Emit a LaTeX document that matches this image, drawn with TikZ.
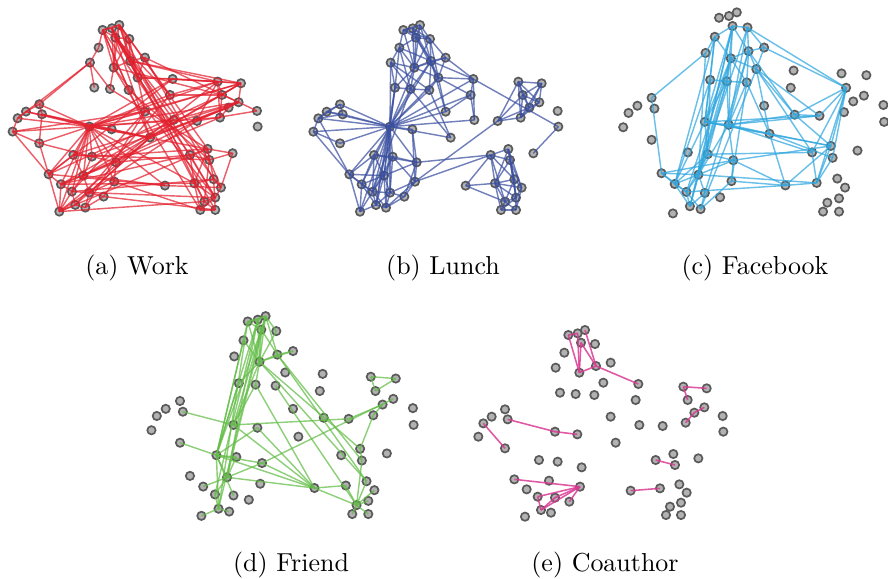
\documentclass[tikz,border=0pt]{standalone}
\usepackage{tikz}
\usepackage{xcolor}
\usetikzlibrary{positioning}
\definecolor{WorkRed}{HTML}{E3202E}
\definecolor{LunchBlue}{HTML}{3A4FA0}
\definecolor{FbCyan}{HTML}{2FA6DE}
\definecolor{FriendGreen}{HTML}{62BC45}
\definecolor{CoPink}{HTML}{DA3A93}
\definecolor{NodeGray}{HTML}{B2B2B2}
\definecolor{RimGray}{HTML}{5A5A5A}

% layout of the 61 people, shared by every layer
\newcommand{\peoplexy}{310/45,338/40,360/30,348/68,390/72,298/98,272/143,343/158,393/138,437/128,415/188,520/192,285/218,332/222,388/225,512/240,655/200,725/205,668/240,718/262,688/278,662/308,773/288,775/335,120/268,80/290,55/310,40/350,128/298,120/385,270/335,337/343,437/290,523/315,593/318,452/368,222/420,278/425,350/442,572/420,625/402,630/435,700/415,148/478,252/482,345/500,185/508,218/530,270/533,313/545,228/570,258/578,180/590,497/512,585/505,643/493,665/518,648/548,615/560,603/585,648/585}
\newcommand{\placepeople}[1]{%
  \foreach \px/\py [count=\k] in \peoplexy
    \node[person] (#1-\k) at (\px,\py) {};}

\tikzset{
  person/.style={circle, draw=RimGray, fill=NodeGray, line width=0.65pt, minimum size=3.2pt, inner sep=0pt},
  tie/.style={line width=0.55pt, opacity=0.72},
  work/.style={tie, WorkRed},
  lunch/.style={tie, LunchBlue},
  facebook/.style={tie, FbCyan},
  friend/.style={tie, FriendGreen},
  coauthor/.style={tie, CoPink, line width=0.6pt, opacity=0.85},
  subcap/.style={font=\normalsize, anchor=base}
}

\begin{document}
\begin{tikzpicture}[x=0.385pt, y=-0.385pt]
    \useasboundingbox (0,0) rectangle (888,578);

    % (a) Work
    \begin{scope}[shift={(-0.7,14.9)}, scale=1/3]
        \placepeople{a}
        \foreach \u/\v in {1/2,1/3,2/3,1/4,2/4,3/4,3/5,4/5,1/6,1/8,2/8,3/8,4/8,5/8,2/9,3/9,4/9,5/9,8/9,9/10,6/7,7/13,7/14,8/14,9/11,10/11,11/12,1/15,2/11,3/11,4/16,3/16,2/36,1/36,3/41,4/42,1/40,2/58,3/59,5/33,4/34,9/17,9/18,11/17,8/19,10/20,7/27,
            31/25,31/26,31/27,31/28,31/29,31/30,31/12,31/16,31/33,31/34,31/17,31/18,31/20,31/22,31/36,31/32,31/37,31/38,31/44,31/45,31/47,31/48,31/53,31/39,31/46,31/54,31/55,31/41,
            17/18,17/19,18/19,18/20,19/20,20/21,21/22,19/22,17/22,20/23,12/17,12/18,16/17,16/19,33/18,34/20,35/17,35/20,35/23,36/18,36/20,36/21,37/20,38/21,44/19,45/18,47/22,39/17,53/35,51/36,
            40/41,40/42,41/42,42/43,41/43,40/55,41/56,42/57,55/56,55/58,56/57,57/58,58/59,58/60,59/60,59/61,60/61,56/61,43/57,41/55,40/58,42/59,55/60,
            8/58,9/59,8/60,4/61,10/56,11/57,15/42,14/41,
            37/38,37/44,37/45,38/39,38/45,39/45,39/46,44/47,44/53,45/47,45/48,45/49,46/49,46/50,47/48,47/53,48/49,48/53,49/50,49/52,50/52,51/52,51/53,48/51,
            44/54,45/54,47/55,48/56,49/58,46/60,53/59,50/61,54/57,39/40,38/41,37/42,47/40,53/41,45/35,53/36,49/36,48/33,47/34,44/12,51/16,52/33,
            25/26,25/29,26/27,27/28,28/30,29/30,25/7,28/44,30/44,26/36,29/36,28/33,30/38}
            \draw[work] (a-\u.center) -- (a-\v.center);
    \end{scope}
    \node[subcap] (cap-a) at (137,274) {(a)\ Work};

    % (b) Lunch
    \begin{scope}[shift={(300,15)}, scale=1/3]
        \placepeople{b}
        \foreach \u/\v in {1/2,1/3,1/4,1/5,1/6,1/8,2/3,2/4,2/5,2/8,2/9,3/4,3/5,3/9,4/5,4/6,4/8,4/9,5/8,5/9,5/10,6/7,6/8,6/9,7/8,7/13,8/9,8/10,8/11,8/13,8/14,9/10,9/11,9/14,9/15,10/11,10/12,11/12,11/15,13/14,14/15,9/12,5/11,6/13,7/14,4/11,3/8,6/14,7/15,
            31/13,31/14,31/8,31/9,31/7,31/15,31/11,31/12,31/16,31/33,31/34,31/36,31/32,
            12/16,12/34,16/34,33/16,11/33,11/16,9/33,15/36,14/36,12/24,24/43,35/46,
            17/18,17/19,17/20,17/21,17/22,17/35,18/19,18/20,18/21,18/22,19/20,19/21,19/22,19/35,20/21,20/22,21/22,21/35,22/35,
            25/31,26/31,27/31,28/31,29/31,30/31,25/26,25/27,25/29,26/27,26/29,27/29,27/28,28/30,28/44,27/44,
            31/37,31/38,31/39,31/44,31/45,31/47,31/48,31/49,31/51,31/52,31/53,32/39,32/46,
            37/38,37/44,37/45,37/47,37/48,38/39,38/45,38/46,38/49,39/45,39/46,39/50,44/47,44/48,44/53,44/45,45/47,45/48,45/49,45/51,45/52,46/49,46/50,46/52,47/48,47/51,47/53,48/49,48/51,48/52,48/53,49/51,49/52,49/50,50/52,51/52,51/53,37/39,38/48,
            39/40,46/40,
            40/41,40/42,40/55,40/56,41/42,41/55,41/56,41/57,42/55,42/56,42/57,42/58,55/56,55/57,55/58,55/59,55/60,56/57,56/58,56/59,57/58,57/61,58/59,58/60,58/61,59/60,59/61,60/61,54/40,54/55,54/59,40/59,41/58,
            13/45,14/48,13/51}
            \draw[lunch] (b-\u.center) -- (b-\v.center);
    \end{scope}
    \node[subcap] (cap-b) at (443,274) {(b)\ Lunch};

    % (c) Facebook
    \begin{scope}[shift={(609,1.6)}, xscale=1.065/3, yscale=1.077/3]
        \placepeople{c}
        \foreach \u/\v in {4/5,4/6,4/8,4/9,5/9,5/10,5/19,6/7,6/8,6/31,6/13,4/14,8/9,8/14,8/15,8/11,9/11,9/15,9/10,10/11,8/31,8/32,9/32,9/34,11/34,11/35,11/40,11/36,14/31,14/32,13/31,15/32,15/36,4/31,5/32,10/19,
            4/51,5/45,8/48,8/51,9/49,14/45,13/47,15/46,11/52,4/45,6/47,7/45,
            31/32,31/36,31/35,32/36,32/34,32/35,36/41,36/42,31/41,32/40,34/35,34/41,
            19/34,19/35,19/41,19/42,19/55,19/40,41/55,42/55,40/55,
            38/45,38/47,38/48,38/39,39/45,39/46,39/54,45/47,45/48,45/49,45/51,47/48,47/51,48/51,48/52,49/52,49/51,46/52,46/54,54/55,44/45,44/48,44/47,54/41,54/36,39/41,38/40,45/55,48/54,25/7,25/44,44/39,
            13/14,14/15,13/38,14/38,31/38,32/39,31/47,32/45}
            \draw[facebook] (c-\u.center) -- (c-\v.center);
    \end{scope}
    \node[subcap] (cap-c) at (755,274) {(c)\ Facebook};

    % (d) Friend
    \begin{scope}[shift={(137.2,305.4)}, scale=1.07/3]
        \placepeople{d}
        \foreach \u/\v in {1/2,1/3,2/3,1/4,2/4,3/4,1/8,2/8,3/8,4/8,3/5,5/8,6/8,8/9,9/10,4/9,3/9,8/10,
            1/37,2/45,3/31,4/37,1/51,2/37,3/45,6/37,13/37,14/31,8/31,8/13,8/14,2/48,4/51,
            8/41,9/42,15/59,8/56,9/56,14/54,
            29/31,31/35,35/21,21/22,22/41,17/18,17/19,18/19,30/37,37/39,37/45,37/49,37/51,37/54,39/20,39/54,31/54,45/54,45/39,32/54,32/37,
            54/59,54/55,55/59,56/59,57/59,58/59,59/60,59/61,42/59,41/42,45/48,47/45,51/53,51/52,48/51,38/37,38/45}
            \draw[friend] (d-\u.center) -- (d-\v.center);
    \end{scope}
    \node[subcap] (cap-d) at (291,571) {(d)\ Friend};

    % (e) Coauthor
    \begin{scope}[shift={(465,320)}, scale=1/3]
        \placepeople{e}
        \foreach \u/\v in {1/2,1/8,2/8,4/8,3/9,4/9,8/9,9/12,17/18,17/19,20/21,21/22,29/31,31/32,27/30,40/42,54/55,
            44/46,46/48,46/49,46/50,46/51,48/51,49/51}
            \draw[coauthor] (e-\u.center) -- (e-\v.center);
    \end{scope}
    \node[subcap] (cap-e) at (605,571) {(e)\ Coauthor};

\end{tikzpicture}
\end{document}
